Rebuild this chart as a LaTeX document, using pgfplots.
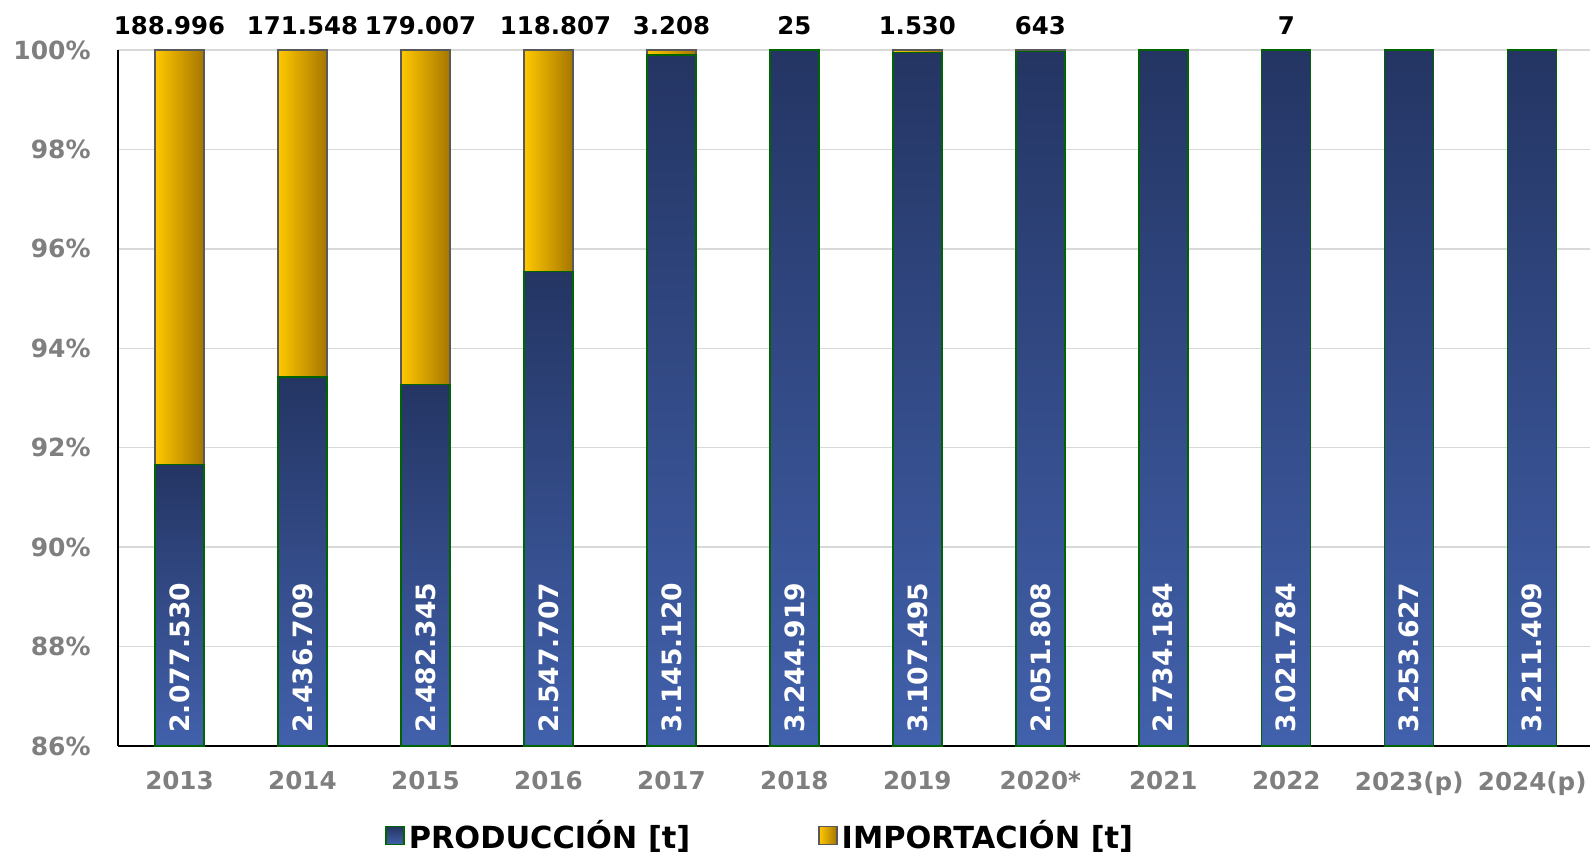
\documentclass[border=0pt]{standalone}
\usepackage{fontspec}
\setmainfont{DejaVu Sans}
\usepackage{graphicx}
\usepackage{pgfplots}
\usepackage{pgfplotstable}
\pgfplotsset{compat=1.18}

\definecolor{bluetop}{RGB}{36,53,99}
\definecolor{bluebot}{RGB}{66,97,172}
\definecolor{yelleft}{RGB}{255,200,0}
\definecolor{yelright}{RGB}{166,118,0}
\definecolor{bargreen}{RGB}{0,100,0}
\definecolor{bargray}{RGB}{89,89,89}
\definecolor{tickgray}{RGB}{127,127,127}
\definecolor{gridgray}{RGB}{217,217,217}

% production and importation in tonnes (dx: label offset in pt)
\pgfplotstableread{
x p i plbl ilbl dx
0 2077530 188996 2.077.530 188.996 -5
1 2436709 171548 2.436.709 171.548 0
2 2482345 179007 2.482.345 179.007 -2.5
3 2547707 118807 2.547.707 118.807 3.5
4 3145120 3208 3.145.120 3.208 0
5 3244919 25 3.244.919 25 0
6 3107495 1530 3.107.495 1.530 0
7 2051808 643 2.051.808 643 0
8 2734184 0 2.734.184 {} 0
9 3021784 7 3.021.784 7 0
10 3253627 0 3.253.627 {} 0
11 3211409 0 3.211.409 {} 0
}\datatable

\pgfplotsset{
  myaxis/.style={
    scale only axis,
    width=736pt, height=348pt,
    xmin=-0.5, xmax=11.47,
    ymin=0, ymax=14,
    clip=false,
  },
}
\tikzset{
  prodstyle/.style={draw=bargreen, line width=0.7pt, top color=bluetop, bottom color=bluebot},
  impstyle/.style={draw=bargray, line width=0.7pt, left color=yelleft, right color=yelright},
}

\begin{document}
\begin{tikzpicture}
\useasboundingbox (-59pt,-55pt) rectangle (736pt,373pt);
% frame: grid, ticks, legend
\begin{axis}[myaxis,
  ymajorgrids,
  grid style={gridgray, line width=0.75pt},
  axis x line*=bottom,
  axis y line*=left,
  axis line style={black, line width=0.6pt},
  tick style={draw=none},
  major tick length=0pt,
  ytick={0,2,4,6,8,10,12,14},
  yticklabels={86\%,88\%,90\%,92\%,94\%,96\%,98\%,100\%},
  xtick={0,1,2,3,4,5,6,7,8,9,10,11},
  xticklabels={2013,2014,2015,2016,2017,2018,2019,2020*,2021,2022,2023(p),2024(p)},
  yticklabel style={font=\fontsize{12.5}{15}\selectfont\bfseries, text=tickgray, inner sep=0pt, anchor=east, xshift=-13.5pt},
  xticklabel style={font=\fontsize{12.3}{15}\selectfont\bfseries, text=tickgray, inner sep=0pt, anchor=north, yshift=-12.5pt},
  legend style={at={(0.437,-0.129)}, anchor=center, draw=none, fill=none,
    font=\fontsize{15.2}{18}\selectfont\bfseries,
    /tikz/every even column/.append style={column sep=62pt}},
  legend columns=2,
]
\addlegendimage{legend image code/.code={\draw[prodstyle] (1pt,-4.5pt) rectangle (10pt,4.5pt);}}
\addlegendentry{PRODUCCIÓN [t]}
\addlegendimage{legend image code/.code={\draw[impstyle] (1pt,-4.5pt) rectangle (10pt,4.5pt);}}
\addlegendentry{IMPORTACIÓN [t]}
\end{axis}
% one stacked bar per year, so each bar gets its own gradient
\pgfplotsinvokeforeach{0,...,11}{
\begin{axis}[myaxis, hide axis, ybar stacked, bar width=24.5pt]
\addplot[prodstyle, x filter/.expression={x==#1 ? x : nan}]
  table[x=x, y expr=\thisrow{p}/(\thisrow{p}+\thisrow{i})*100-86] {\datatable};
\addplot[impstyle, x filter/.expression={x==#1 ? x : nan}]
  table[x=x, y expr=\thisrow{i}/(\thisrow{p}+\thisrow{i})*100] {\datatable};
\end{axis}
}
% value labels
\begin{axis}[myaxis, hide axis]
\addplot[draw=none, nodes near coords={\rotatebox{90}{\pgfplotspointmeta}}, point meta=explicit symbolic,
  every node near coord/.append style={anchor=south, yshift=6.5pt, inner sep=0pt, text=white, font=\fontsize{13.3}{15}\selectfont\bfseries}]
  table[x=x, y expr=0, meta=plbl] {\datatable};
\addplot[draw=none, nodes near coords, point meta=explicit symbolic,
  visualization depends on={\thisrow{dx} \as \dx},
  every node near coord/.append style={anchor=base, yshift=7.5pt, xshift={\dx pt}, inner sep=0pt, text=black, font=\fontsize{12.2}{15}\selectfont\bfseries}]
  table[x=x, y expr=14, meta=ilbl] {\datatable};
\end{axis}
\end{tikzpicture}
\end{document}
